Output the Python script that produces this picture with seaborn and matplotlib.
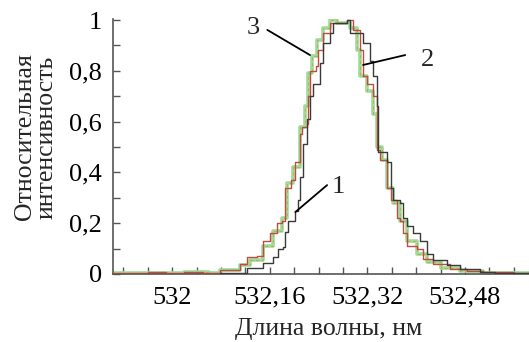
import numpy as np
import pandas as pd
import matplotlib
matplotlib.use("Agg")
import matplotlib.pyplot as plt
import seaborn as sns
from matplotlib.ticker import MultipleLocator, FixedLocator, FuncFormatter

# ---- data ----
wl1 = [531.903, 532.079, 532.123, 532.149, 532.166, 532.174, 532.182, 532.185, 532.190,
       532.202, 532.207, 532.210, 532.215, 532.221, 532.226, 532.231, 532.243, 532.248,
       532.259, 532.264, 532.287, 532.292, 532.303, 532.313, 532.325, 532.330, 532.336,
       532.338, 532.353, 532.358, 532.362, 532.374, 532.379, 532.385, 532.395, 532.407,
       532.418, 532.428, 532.451, 532.472, 532.505, 532.530, 532.585]
int1 = [0.0, 0.004, 0.024, 0.043, 0.067, 0.10, 0.107, 0.167, 0.21,
        0.25, 0.29, 0.38, 0.51, 0.61, 0.70, 0.75, 0.83, 0.91,
        0.95, 0.99, 1.0, 0.95, 0.95, 0.91, 0.84, 0.78, 0.66,
        0.48, 0.44, 0.34, 0.29, 0.28, 0.22, 0.19, 0.16, 0.13,
        0.08, 0.055, 0.035, 0.02, 0.008, 0.003, 0.0]

wl2 = [531.903, 531.930, 531.960, 531.990, 532.020, 532.050, 532.079, 532.111, 532.123,
       532.139, 532.149, 532.161, 532.172, 532.180, 532.185, 532.194, 532.202, 532.210,
       532.213, 532.221, 532.223, 532.226, 532.235, 532.239, 532.248, 532.259, 532.271,
       532.287, 532.297, 532.305, 532.308, 532.313, 532.320, 532.330, 532.336, 532.341,
       532.353, 532.358, 532.369, 532.374, 532.379, 532.385, 532.402, 532.412, 532.428,
       532.456, 532.484, 532.510, 532.540, 532.560, 532.585]
int2 = [0.004, 0.002, 0.006, 0.003, 0.007, 0.004, 0.016, 0.04, 0.067,
        0.07, 0.13, 0.16, 0.20, 0.21, 0.34, 0.37, 0.44, 0.55,
        0.58, 0.59, 0.70, 0.80, 0.82, 0.88, 0.95, 0.99, 0.99,
        1.0, 0.96, 0.96, 0.88, 0.78, 0.75, 0.70, 0.49, 0.45,
        0.34, 0.29, 0.22, 0.21, 0.16, 0.11, 0.10, 0.06, 0.04,
        0.02, 0.01, 0.006, 0.009, 0.004, 0.006]

wl3 = [531.903, 531.940, 531.980, 532.020, 532.060, 532.079, 532.111, 532.128, 532.149,
       532.166, 532.180, 532.189, 532.198, 532.210, 532.218, 532.223, 532.230, 532.238,
       532.248, 532.259, 532.271, 532.280, 532.292, 532.303, 532.308, 532.320, 532.330,
       532.336, 532.344, 532.353, 532.362, 532.374, 532.385, 532.402, 532.418, 532.440,
       532.472, 532.510, 532.550, 532.585]
int3 = [0.003, 0.005, 0.002, 0.006, 0.004, 0.015, 0.035, 0.055, 0.11,
        0.17, 0.22, 0.36, 0.42, 0.58, 0.66, 0.79, 0.86, 0.92,
        0.97, 1.0, 0.99, 0.99, 0.97, 0.88, 0.78, 0.72, 0.63,
        0.50, 0.45, 0.34, 0.28, 0.21, 0.13, 0.08, 0.048, 0.025,
        0.01, 0.005, 0.004, 0.004]

x_label_ticks = [532.0, 532.16, 532.32, 532.48]
y_label_ticks = [0, 0.2, 0.4, 0.6, 0.8, 1.0]
curve_labels = ["1", "2", "3"]

# ---- figure ----
sns.set_style("ticks")
plt.rcParams["font.family"] = ["Liberation Serif", "DejaVu Serif"]

fig = plt.figure(figsize=(5.29, 3.42), dpi=100)
ax = fig.add_axes([113 / 529, 68 / 342, 1 - 113 / 529, (274 - 19) / 342])

d1 = pd.DataFrame({"wl": wl1, "I": int1})
d2 = pd.DataFrame({"wl": wl2, "I": int2})
d3 = pd.DataFrame({"wl": wl3, "I": int3})

sns.lineplot(data=d3, x="wl", y="I", ax=ax, color="#9cdc9a", lw=2.6,
             drawstyle="steps-post", estimator=None, sort=True, zorder=2)
sns.lineplot(data=d3, x="wl", y="I", ax=ax, color="#c9a84a", lw=0.7,
             linestyle=(0, (3, 3)), drawstyle="steps-post",
             estimator=None, sort=True, zorder=2.5)
sns.lineplot(data=d2, x="wl", y="I", ax=ax, color="#c24a40", lw=1.0,
             drawstyle="steps-post", estimator=None, sort=True, zorder=3)
sns.lineplot(data=d1, x="wl", y="I", ax=ax, color="#3a3a3a", lw=1.0,
             drawstyle="steps-post", estimator=None, sort=True, zorder=4)

ax.set_xlim(531.903, 532.585)
ax.set_ylim(0, 1.004)

ax.xaxis.set_major_locator(FixedLocator(x_label_ticks))
ax.xaxis.set_minor_locator(MultipleLocator(0.04))
ax.yaxis.set_major_locator(FixedLocator(y_label_ticks))
ax.yaxis.set_minor_locator(MultipleLocator(0.1))


def fmt(v, pos):
    s = f"{v:.2f}".rstrip("0").rstrip(".")
    return s.replace(".", ",")


ax.xaxis.set_major_formatter(FuncFormatter(fmt))
ax.yaxis.set_major_formatter(FuncFormatter(fmt))

ax.tick_params(axis="both", which="both", direction="in", length=5, width=1,
               color="#555555", labelsize=19, labelcolor="black")
ax.tick_params(axis="x", which="major", pad=9)
ax.tick_params(axis="y", which="major", pad=8)

sns.despine(ax=ax, top=True, right=True)
for s in ["left", "bottom"]:
    ax.spines[s].set_color("#555555")
    ax.spines[s].set_linewidth(1.2)

ax.set_xlabel("Длина волны, нм", fontsize=18.5, va="center")
ax.xaxis.set_label_coords(0.519, -0.215)
ax.set_ylabel("")
fig.text(36 / 529, 1 - 137 / 342, "Относительная\nинтенсивность", rotation=90,
         ha="center", va="center", fontsize=18.5, linespacing=1.0, multialignment="center")

# curve annotations
ax.plot([532.156, 532.226], [0.961, 0.862], color="black", lw=1.3, zorder=5)
ax.text(532.133, 0.969, curve_labels[2], fontsize=19, ha="center", va="center")
ax.plot([532.382, 532.313], [0.862, 0.823], color="black", lw=1.3, zorder=5)
ax.text(532.418, 0.843, curve_labels[1], fontsize=19, ha="center", va="center")
ax.plot([532.254, 532.202], [0.350, 0.244], color="black", lw=1.3, zorder=5)
ax.text(532.272, 0.343, curve_labels[0], fontsize=19, ha="center", va="center")

fig.savefig("out.png", dpi=100)
